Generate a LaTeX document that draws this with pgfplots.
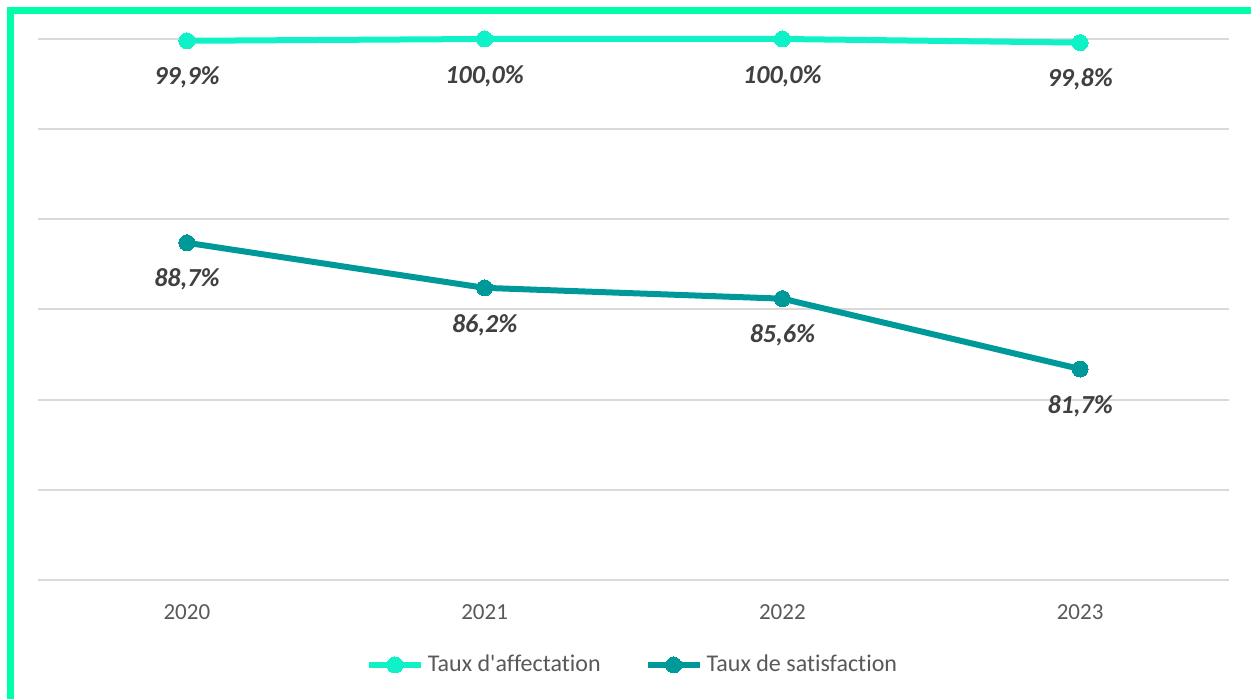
\documentclass[border=0pt]{standalone}
\usepackage{fontspec}
\setmainfont[Ligatures={NoCommon}]{Carlito}
\usepackage{pgfplots}
\pgfplotsset{compat=1.18}
\definecolor{frame}{HTML}{00FFAA}
\definecolor{affect}{HTML}{0FF2C8}
\definecolor{satis}{HTML}{009999}
\definecolor{gridc}{HTML}{D9D9D9}
\definecolor{txt}{HTML}{595959}
\definecolor{lbl}{HTML}{404040}

\begin{document}
\begin{tikzpicture}
  \useasboundingbox (0,0) rectangle (625.5pt,349.5pt);
  \begin{axis}[
    at={(19pt,59.5pt)}, anchor=south west,
    scale only axis, width=595.5pt, height=270.5pt,
    xmin=2019.5, xmax=2023.5, ymin=70, ymax=100,
    xtick={2020,2021,2022,2023},
    xticklabels={2020,2021,2022,2023},
    ytick={70,75,80,85,90,95,100},
    yticklabels={},
    major tick length=0pt,
    axis line style={draw=none},
    ymajorgrids, grid style={gridc, line width=1pt},
    tick label style={font=\fontsize{11.5}{12}\selectfont, text=txt},
    xticklabel style={yshift=-9pt},
    clip=false,
    point meta=explicit symbolic,
    nodes near coords,
    every node near coord/.append style={anchor=center, yshift=-18.5pt,
      font=\fontsize{13}{14}\selectfont\bfseries\itshape, text=lbl},
    legend columns=2,
    legend style={at={(0.5,0)}, anchor=center, yshift=-42.5pt, draw=none,
      font=\fontsize{12}{13}\selectfont, text=txt,
      /tikz/every even column/.append style={column sep=20pt}},
    legend cell align=left,
    legend image code/.code={
      \draw[mark repeat=2, mark phase=2, #1]
        plot coordinates {(0pt,0pt) (13pt,0pt) (26pt,0pt)};},
  ]
    \addplot[affect, line width=3pt, mark=*, mark size=4pt,
      mark options={solid, fill=affect, draw=affect, line width=0pt}]
      coordinates {
      (2020,99.9)[99,9\%]
      (2021,100.0)[100,0\%]
      (2022,100.0)[100,0\%]
      (2023,99.8)[99,8\%]
    };
    \addlegendentry{Taux d\textquotesingle affectation}
    \addplot[satis, line width=3pt, mark=*, mark size=4pt,
      mark options={solid, fill=satis, draw=satis, line width=0pt}]
      coordinates {
      (2020,88.7)[88,7\%]
      (2021,86.2)[86,2\%]
      (2022,85.6)[85,6\%]
      (2023,81.7)[81,7\%]
    };
    \addlegendentry{Taux de satisfaction}
  \end{axis}
  % frame of the chart area (only top and left edges visible)
  \fill[frame] (3.5pt,0pt) rectangle (7pt,346pt);
  \fill[frame] (3.5pt,342.5pt) rectangle (625.5pt,346pt);
\end{tikzpicture}
\end{document}
